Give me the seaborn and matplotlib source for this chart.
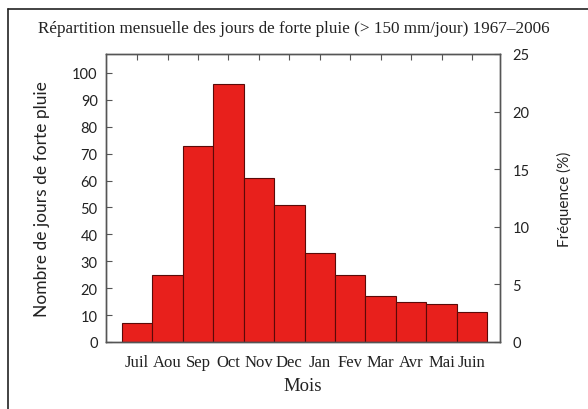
import matplotlib
matplotlib.use("Agg")
import matplotlib.pyplot as plt
from matplotlib.lines import Line2D
import seaborn as sns
import pandas as pd

months = ["Juil", "Aou", "Sep", "Oct", "Nov", "Dec", "Jan", "Fev", "Mar", "Avr", "Mai", "Juin"]
counts = [7, 25, 73, 96, 61, 51, 33, 25, 17, 15, 14, 11]
left_ticks = [0, 10, 20, 30, 40, 50, 60, 70, 80, 90, 100]
right_ticks = [0, 5, 10, 15, 20, 25]

df = pd.DataFrame({"mois": months, "jours": counts})
total = sum(counts)

sns.set_style("white")
serif = ["Liberation Serif", "DejaVu Serif"]
sans = ["Lato", "DejaVu Sans"]

fig = plt.figure(figsize=(5.88, 4.10), dpi=100)
ax = fig.add_axes([106 / 588, 67 / 410, 394 / 588, 288 / 410])

sns.barplot(data=df, x="mois", y="jours", ax=ax, width=1.0,
            color="#e8201c", saturation=1, edgecolor="#5a0a08", linewidth=0.8)

ax.set_xlim(-1.02, 11.92)
ax.set_ylim(0, total * 25 / 100)
ax.set_yticks(left_ticks)
ax.set_yticklabels([str(t) for t in left_ticks], family=sans, fontsize=10.5, color="#222")
ax.set_xticks(range(len(months)))
ax.set_xticklabels(months, family=serif, fontsize=12, color="#222")
ax.tick_params(axis="x", direction="in", length=4, color="#555", width=0.8,
               top=True, bottom=True, pad=9)
ax.tick_params(axis="y", direction="in", length=4, color="#555", width=0.8,
               left=True, right=False, pad=6)
ax.set_xlabel("Mois", family=serif, fontsize=13.5, color="#222", labelpad=5)
ax.set_ylabel("Nombre de jours de forte pluie", family=sans, fontsize=12.5, color="#222", labelpad=16)
for s in ax.spines.values():
    s.set_color("#555")
    s.set_linewidth(1.0)

ax2 = ax.twinx()
ax2.set_ylim(0, 25)
ax2.set_yticks(right_ticks)
ax2.set_yticklabels([str(t) for t in right_ticks], family=sans, fontsize=10.5, color="#222")
ax2.tick_params(axis="y", direction="in", length=4, color="#555", width=0.8, pad=9)
ax2.set_ylabel("Fréquence (%)", family=sans, fontsize=11, color="#222", labelpad=20)
for s in ax2.spines.values():
    s.set_color("#555")
    s.set_linewidth(1.0)

fig.text(0.5, 1 - 29 / 410, "Répartition mensuelle des jours de forte pluie (> 150 mm/jour) 1967–2006",
         ha="center", va="center", family=serif, fontsize=12.3, color="#222")

# outer frame of the original figure (left and top edges only)
fx, fy = 8 / 588, 1 - 10 / 410
fig.add_artist(Line2D([fx, fx], [0, fy], transform=fig.transFigure, color="#222", linewidth=1.2))
fig.add_artist(Line2D([fx, 1], [fy, fy], transform=fig.transFigure, color="#222", linewidth=1.2))

fig.savefig("out.png", dpi=100)
